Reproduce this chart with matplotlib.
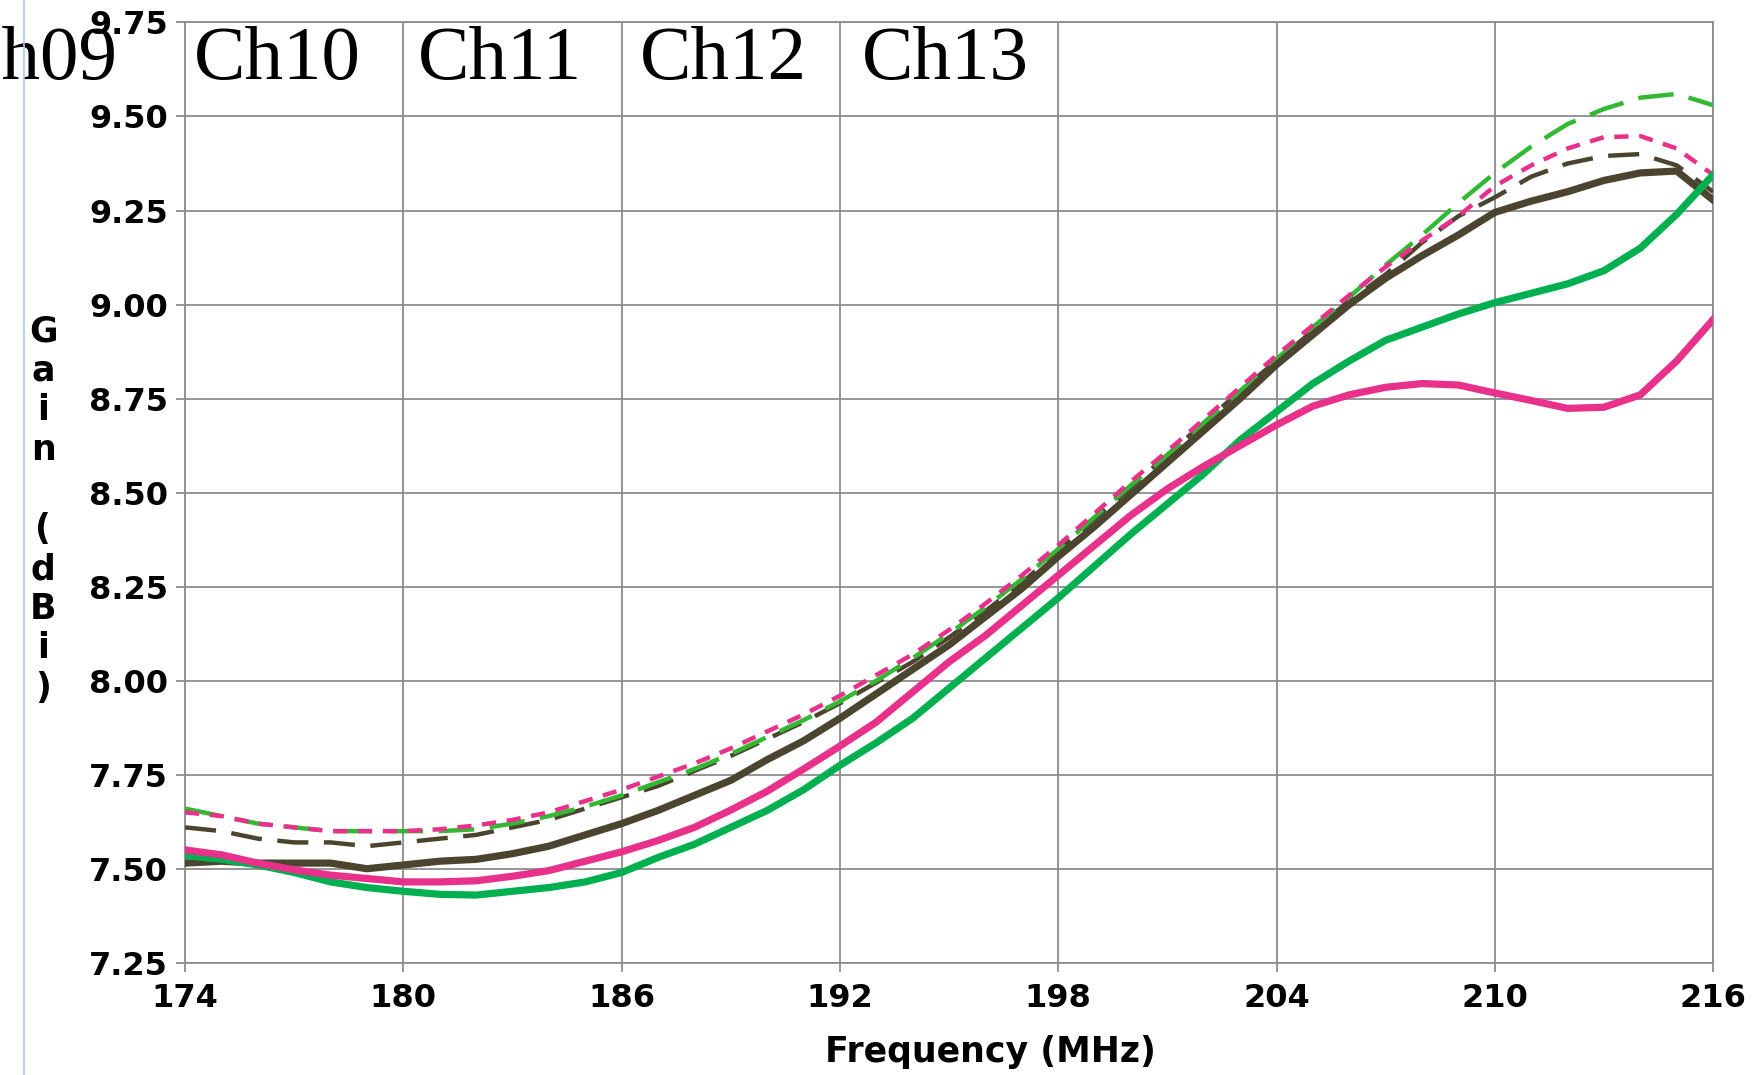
import numpy as np
from matplotlib import pyplot as plt
from matplotlib.lines import Line2D

freq = np.arange(174, 217)

dark_solid = [7.515, 7.52, 7.515, 7.515, 7.515, 7.50, 7.51, 7.52, 7.525, 7.54,
              7.56, 7.59, 7.62, 7.655, 7.695, 7.735, 7.79, 7.84, 7.90, 7.965,
              8.03, 8.095, 8.17, 8.245, 8.33, 8.41, 8.495, 8.58, 8.665, 8.75,
              8.84, 8.92, 9.0, 9.07, 9.13, 9.185, 9.245, 9.275, 9.30, 9.33,
              9.35, 9.355, 9.278]
dark_dash = [7.61, 7.60, 7.58, 7.57, 7.57, 7.56, 7.57, 7.58, 7.59, 7.61,
             7.63, 7.66, 7.69, 7.72, 7.76, 7.80, 7.845, 7.89, 7.94, 7.995,
             8.05, 8.115, 8.185, 8.26, 8.345, 8.43, 8.515, 8.60, 8.685, 8.77,
             8.85, 8.93, 9.01, 9.08, 9.165, 9.235, 9.285, 9.34, 9.375, 9.395,
             9.40, 9.37, 9.30]
pink_solid = [7.55, 7.537, 7.515, 7.497, 7.483, 7.474, 7.465, 7.465, 7.468, 7.48,
              7.495, 7.52, 7.545, 7.575, 7.61, 7.656, 7.706, 7.765, 7.826, 7.89,
              7.97, 8.05, 8.12, 8.20, 8.28, 8.36, 8.44, 8.51, 8.57, 8.625,
              8.68, 8.73, 8.76, 8.78, 8.79, 8.786, 8.765, 8.745, 8.724, 8.727,
              8.76, 8.85, 8.96]
pink_dash = [7.65, 7.64, 7.62, 7.61, 7.60, 7.60, 7.60, 7.605, 7.615, 7.63,
             7.65, 7.68, 7.71, 7.745, 7.78, 7.82, 7.865, 7.91, 7.96, 8.015,
             8.07, 8.135, 8.205, 8.28, 8.36, 8.445, 8.53, 8.61, 8.695, 8.78,
             8.865, 8.945, 9.025, 9.10, 9.17, 9.235, 9.315, 9.37, 9.415, 9.445,
             9.448, 9.415, 9.345]
green_solid = [7.535, 7.525, 7.51, 7.49, 7.465, 7.45, 7.44, 7.432, 7.43, 7.44,
               7.45, 7.465, 7.49, 7.53, 7.565, 7.61, 7.655, 7.71, 7.775, 7.835,
               7.90, 7.98, 8.06, 8.14, 8.22, 8.305, 8.39, 8.47, 8.55, 8.64,
               8.715, 8.79, 8.85, 8.905, 8.94, 8.975, 9.005, 9.03, 9.055, 9.09,
               9.15, 9.24, 9.345]
green_dash = [7.66, 7.64, 7.62, 7.61, 7.60, 7.60, 7.60, 7.60, 7.605, 7.62,
              7.64, 7.665, 7.695, 7.73, 7.765, 7.805, 7.85, 7.895, 7.945, 8.00,
              8.06, 8.125, 8.195, 8.27, 8.35, 8.435, 8.52, 8.60, 8.685, 8.77,
              8.855, 8.94, 9.02, 9.105, 9.185, 9.27, 9.35, 9.42, 9.48, 9.52,
              9.55, 9.56, 9.53]

channels = ["Ch09", "Ch10", "Ch11", "Ch12", "Ch13"]
channel_x = [167.55, 174.25, 180.4, 186.5, 192.6]

dark = "#4b4530"
pink = "#e8318a"
green = "#00b050"
lgreen = "#33b833"

fig = plt.figure(figsize=(17.59, 10.75), dpi=100)
ax = fig.add_axes([0.1052, 0.1044, 0.8687, 0.8747])

ax.plot(freq, dark_dash, color=dark, lw=3.2, dashes=(7, 3.5), zorder=3)
ax.plot(freq, green_dash, color=lgreen, lw=3.2, dashes=(8, 3.5), zorder=3)
ax.plot(freq, pink_dash, color=pink, lw=3.2, dashes=(3.2, 2.4), zorder=4)
ax.plot(freq, dark_solid, color=dark, lw=5.2, zorder=5)
ax.plot(freq, green_solid, color=green, lw=5.2, zorder=5)
ax.plot(freq, pink_solid, color=pink, lw=5.2, zorder=6)

ax.set_xlim(174, 216)
ax.set_ylim(7.25, 9.75)
ax.set_xticks(np.arange(174, 217, 6))
ax.set_yticks(np.arange(7.25, 9.76, 0.25))
ax.set_yticklabels(["%.2f" % v for v in np.arange(7.25, 9.76, 0.25)])
ax.grid(True, color="#8c8c8c", lw=1.3)
ax.set_axisbelow(True)
for s in ax.spines.values():
    s.set_color("#8c8c8c")
    s.set_linewidth(1.3)
ax.tick_params(direction="out", length=6.5, width=1.3, color="#8c8c8c",
               labelsize=23, pad=6)
ax.tick_params(axis="x", pad=8)
for lab in ax.get_xticklabels() + ax.get_yticklabels():
    lab.set_fontweight("bold")

for name, x in zip(channels, channel_x):
    ax.text(x, 9.60, name, family="Liberation Serif", fontsize=55.5,
            va="baseline", ha="left", clip_on=False, zorder=10)

fig.text(0.563, 0.021, "Frequency (MHz)", fontsize=25, fontweight="bold",
         ha="center", va="center")
fig.text(0.0245, 0.526, "\n".join("Gain (dBi)"), fontsize=25, fontweight="bold",
         ha="center", va="center", linespacing=1.21)

fig.add_artist(Line2D([0.0134, 0.0134], [0, 1], transform=fig.transFigure,
                      color="#b4c7e7", lw=1.2))

plt.savefig("out.png", dpi=100)
